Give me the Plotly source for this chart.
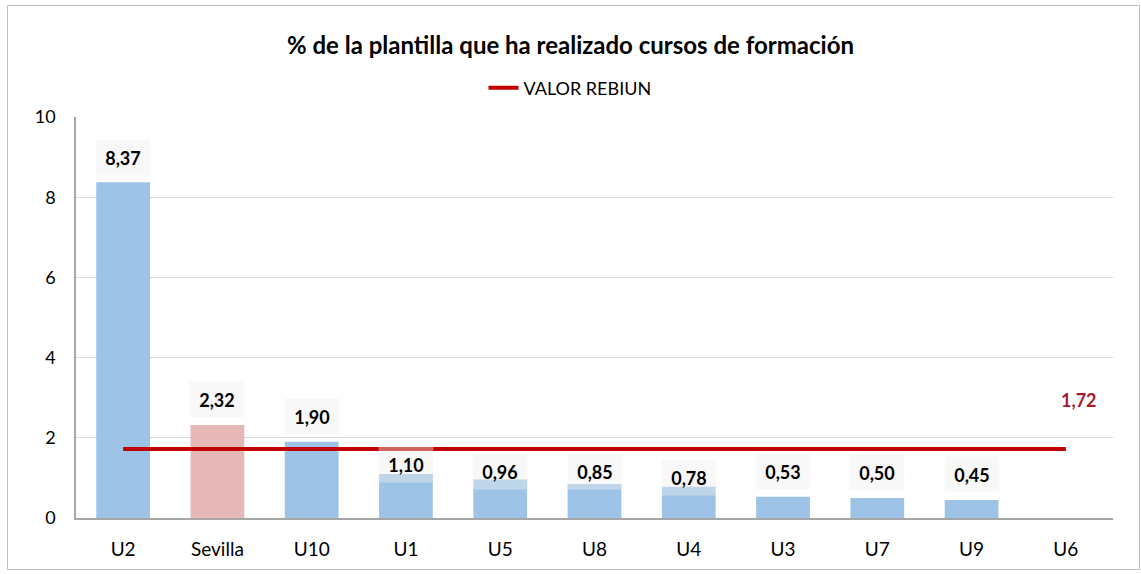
import plotly.graph_objects as go

categories = ["U2", "Sevilla", "U10", "U1", "U5", "U8", "U4", "U3", "U7", "U9", "U6"]
values = [8.37, 2.32, 1.90, 1.10, 0.96, 0.85, 0.78, 0.53, 0.50, 0.45, None]
rebiun_value = 1.72
label_texts = ["8,37", "2,32", "1,90", "1,10", "0,96", "0,85", "0,78", "0,53", "0,50", "0,45"]
rebiun_text = "1,72"
title_text = "% de la plantilla que ha realizado cursos de formación"
legend_name = "VALOR REBIUN"
y_ticks = [0, 2, 4, 6, 8, 10]

# styling (pixel offsets of the value-label boxes above each bar)
label_shift_px = [25, 25, 25, 9, 8, 12, 9, 25, 25, 25]
FONT = "Lato"
W, H = 1141, 574
ML, MR, MT, MB = 76, 28, 117, 56
PW, PH = W - ML - MR, H - MT - MB

bar_colors = ["#E6B9B8" if c == "Sevilla" else "#9DC3E6" for c in categories]

fig = go.Figure()
fig.add_trace(go.Bar(
    x=categories, y=values, marker=dict(color=bar_colors, line=dict(width=0)),
    showlegend=False, hoverinfo="x+y",
))
fig.add_trace(go.Scatter(
    x=categories, y=[rebiun_value] * len(categories), mode="lines",
    line=dict(color="#C00000", width=4), name=legend_name,
))

for cat, v, t, s in zip(categories, values, label_texts, label_shift_px):
    fig.add_annotation(
        x=cat, y=v, text="<b>%s</b>" % t, showarrow=False,
        yanchor="middle", yshift=s, width=54, height=35,
        bgcolor="rgba(238,238,238,0.42)", borderpad=0,
        font=dict(family=FONT, size=18, color="#000000"),
    )

fig.add_annotation(
    x=categories[-1], y=rebiun_value, text="<b>%s</b>" % rebiun_text,
    showarrow=False, xshift=13, yshift=49,
    font=dict(family=FONT, size=18, color="#A51C30"),
)

def px_to_paper_x(px):
    return (px - ML) / PW

def px_to_paper_y(py):
    return (H - MB - py) / PH

fig.add_shape(
    type="rect", xref="paper", yref="paper",
    x0=px_to_paper_x(7.5), x1=px_to_paper_x(1139.5),
    y0=px_to_paper_y(569.5), y1=px_to_paper_y(5.5),
    line=dict(color="#bfbfbf", width=1), fillcolor="rgba(0,0,0,0)", layer="below",
)

fig.update_layout(
    width=W, height=H,
    margin=dict(l=ML, r=MR, t=MT, b=MB),
    paper_bgcolor="white", plot_bgcolor="white",
    font=dict(family=FONT, color="#000000"),
    title=dict(text="<b>%s</b>" % title_text, x=0.5, xanchor="center",
               y=1 - 46 / H, yanchor="middle",
               font=dict(family=FONT, size=24, color="#000000")),
    legend=dict(orientation="h", x=px_to_paper_x(570), xanchor="center",
                y=px_to_paper_y(88), yanchor="middle",
                font=dict(family=FONT, size=18, color="#000000"),
                bgcolor="rgba(0,0,0,0)"),
    bargap=0.43,
    showlegend=True,
)
fig.update_xaxes(
    showline=True, linecolor="#a6a6a6", linewidth=1.5, ticks="",
    tickfont=dict(family=FONT, size=19, color="#000000"),
    ticklabelstandoff=13, showgrid=False,
)
fig.update_yaxes(
    range=[0, 10], tickvals=y_ticks, showgrid=True, gridcolor="#d9d9d9", gridwidth=1,
    showline=True, linecolor="#a6a6a6", linewidth=1.5, ticks="", zeroline=False,
    tickfont=dict(family=FONT, size=18, color="#000000"),
    ticklabelstandoff=15,
)

fig.write_html("out.html", config={"displayModeBar": False},
               post_script="document.body.style.margin='0';")
